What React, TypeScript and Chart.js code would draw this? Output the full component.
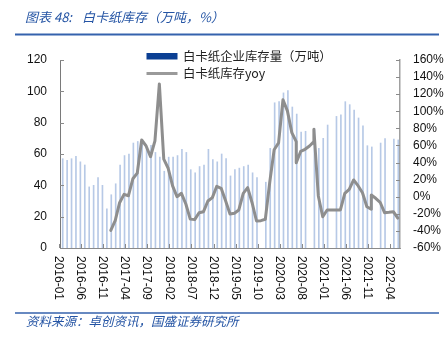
import React, { useEffect, useRef } from 'react';
import { Chart, registerables } from 'chart.js';

Chart.register(...registerables);

// Categories: monthly, 2016-01 .. 2022-05
const months: string[] = [];
for (let i = 0; i < 77; i++) {
  const yr = 2016 + Math.floor(i / 12);
  const mo = (i % 12) + 1;
  months.push(`${yr}-${mo < 10 ? '0' + mo : mo}`);
}

// 白卡纸企业库存量（万吨）
const inventory: (number | null)[] = [
  57, 56, 57, 58.5, 55, 53, 39, 40, 45, 40, 25, 34,
  41, 53, 59, 60, 67, 68, 66, 64, 65.5, 61, 58, 49,
  58, 58, 59, 63, 61, 50, 48, 52, 53, 63, 56.5, 55,
  60, 57, 46, 50, 51, 52, 53, 48, 45, null, 42, 63.6,
  92.7, 93.4, 99, 100.5, 90, 85.5, 74, 74.5, null, 76.4, 63.6, 70,
  78.5, null, 84, 85, 93.4, 91.5, 88, 83, 78, 65.3, 64.5, null,
  67, 69.8, null, 69.5, 69,
];

// 白卡纸库存yoy (%) — month index of each point and its value
const yoyMonthIndex: number[] = [
  11, 12, 13, 14, 15, 16, 17, 18, 19, 20, 21, 22, 23, 24, 25, 26, 27, 28, 29, 30,
  31, 32, 33, 34, 35, 36, 37, 38, 39, 40, 41, 42, 43, 44, 45, 46, 47, 48, 49, 50,
  51, 52, 53, 53, 54, 55, 56, 57, 57, 58, 59, 60, 61, 62, 63, 64, 65, 66, 67, 68,
  69, 70, 70, 71, 72, 73, 74, 75, 76,
];
const yoyValues: number[] = [
  -39.5, -28, -7, 2.8, 1.2, 21, 27.7, 66.4, 59.4, 46.8, 65.4, 132, 44, 33.3, 12.7, 0, 4, -8.5, -26.2, -26.8,
  -18.7, -17.5, -5, -1, 12.2, 9.9, -4.8, -20.2, -19.4, -15.5, 4, 10.6, -7, -28.4, -28, -26.4, 17, 55, 63, 113.5,
  100.5, 75, 64.4, 39.8, 53, 55.5, 59.4, 64.4, 78.9, 0.9, -23.4, -15.5, -15.5, -15.5, -15.5, 4, 8.7, 19.6, 12.9, 4.7,
  -11.7, -14.7, 2, -1.8, -6.5, -18.7, -18.2, -17.5, -25,
];

const labelEvery = 5;
const TITLE_PREFIX = '图表 48:';
const TITLE = '白卡纸库存（万吨，%）';
const SOURCE = '资料来源：卓创资讯，国盛证券研究所';
const LEGEND_BAR = '白卡纸企业库存量（万吨）';
const LEGEND_LINE = '白卡纸库存yoy';

const BLUE_TEXT = '#2454a4';
const BAR_COLOR = '#b7c9e6';
const LEGEND_BAR_COLOR = '#0b3f93';
const LINE_COLOR = '#8e8e8e';
const AXIS_COLOR = '#8a8a8a';

const decor = {
  id: 'decor',
  afterDraw(chart: any) {
    const { ctx, chartArea: a, scales } = chart;
    const xs = scales.x;
    const ys = scales.y;
    const ys1 = scales.y1;
    const seg = (x1: number, y1: number, x2: number, y2: number) => {
      ctx.beginPath();
      ctx.moveTo(x1, y1);
      ctx.lineTo(x2, y2);
      ctx.stroke();
    };
    ctx.save();
    // title
    ctx.fillStyle = BLUE_TEXT;
    ctx.textBaseline = 'middle';
    ctx.textAlign = 'left';
    ctx.font = 'italic 13px "Noto Sans CJK SC"';
    ctx.fillText(TITLE_PREFIX, 25, 17);
    ctx.fillText(TITLE, 82, 17);
    // rules
    ctx.strokeStyle = '#3562ad';
    ctx.lineWidth = 2;
    seg(15, 34.5, 439, 34.5);
    ctx.lineWidth = 1.5;
    seg(15, 313, 439, 313);
    // source
    ctx.font = 'italic 12.5px "Noto Sans CJK SC"';
    ctx.fillText(SOURCE, 26, 321.5);

    // legend
    ctx.fillStyle = LEGEND_BAR_COLOR;
    ctx.fillRect(146.5, 53, 31, 6.5);
    ctx.strokeStyle = '#9a9a9a';
    ctx.lineWidth = 3;
    seg(146.5, 73.5, 177.5, 73.5);
    ctx.fillStyle = '#222';
    ctx.font = '12.4px "Noto Sans CJK SC"';
    ctx.fillText(LEGEND_BAR, 183, 56.5);
    ctx.fillText(LEGEND_LINE, 183, 73.5);

    // tick marks (inward)
    ctx.strokeStyle = AXIS_COLOR;
    ctx.lineWidth = 1;
    ys.ticks.forEach((t: any) => {
      const py = Math.round(ys.getPixelForValue(t.value)) + 0.5;
      seg(a.left, py, a.left + 4, py);
    });
    ys1.ticks.forEach((t: any) => {
      const py = Math.round(ys1.getPixelForValue(t.value)) + 0.5;
      seg(a.right - 4, py, a.right, py);
    });
    const w = (a.right - a.left) / months.length;
    ctx.fillStyle = '#111';
    ctx.font = '12px "Liberation Sans"';
    for (let i = 0; i < months.length; i += labelEvery) {
      const px = xs.getPixelForValue(i) - w / 2;
      const tx = Math.round(px) - 0.5;
      seg(tx, a.bottom - 4, tx, a.bottom);
      ctx.save();
      ctx.translate(px - 1.5, a.bottom + 8);
      ctx.rotate(Math.PI / 2);
      ctx.textAlign = 'left';
      ctx.textBaseline = 'middle';
      ctx.fillText(months[i], 0, 0);
      ctx.restore();
    }
    ctx.restore();
  },
};

export default function App() {
  const ref = useRef<HTMLCanvasElement | null>(null);
  useEffect(() => {
    document.body.style.margin = '0';
    const canvas = ref.current;
    if (!canvas) return;
    const tickFont = { family: '"Liberation Sans"', size: 12 };
    const chart = new Chart(canvas, {
      type: 'bar',
      data: {
        labels: months,
        datasets: [
          {
            type: 'line',
            label: LEGEND_LINE,
            data: yoyMonthIndex.map((m, k) => ({ x: m, y: yoyValues[k] })),
            xAxisID: 'x2',
            yAxisID: 'y1',
            borderColor: LINE_COLOR,
            borderWidth: 3,
            pointRadius: 0,
            tension: 0,
            borderJoinStyle: 'round',
            borderCapStyle: 'round',
            order: 0,
          } as any,
          {
            type: 'bar',
            label: LEGEND_BAR,
            data: inventory,
            xAxisID: 'x',
            yAxisID: 'y',
            backgroundColor: BAR_COLOR,
            barThickness: 1,
            order: 1,
          } as any,
        ],
      },
      options: {
        responsive: false,
        animation: false,
        layout: { padding: { top: 60, left: 0, right: 0, bottom: 0 } },
        plugins: { legend: { display: false }, tooltip: { enabled: false } },
        scales: {
          x: {
            type: 'category',
            offset: true,
            grid: { display: false, drawTicks: false },
            ticks: { display: false },
            border: { display: true, color: AXIS_COLOR, width: 1 },
            afterFit: (s: any) => { s.height = 97; },
          },
          x2: {
            type: 'linear',
            display: false,
            offset: false,
            bounds: 'ticks',
            min: -0.5,
            max: months.length - 0.5,
          },
          y: {
            position: 'left',
            min: 0,
            max: 120,
            ticks: { stepSize: 20, maxTicksLimit: 20, font: tickFont, color: '#111', padding: 13 },
            grid: { display: false, drawTicks: false },
            border: { display: true, color: '#7a7a7a', width: 1 },
            afterFit: (s: any) => { s.width = 60; },
          },
          y1: {
            position: 'right',
            min: -60,
            max: 160,
            ticks: {
              stepSize: 20,
              maxTicksLimit: 20,
              autoSkip: false,
              font: tickFont,
              color: '#111',
              padding: 13,
              callback: (v: any) => `${v}%`,
            },
            grid: { display: false, drawTicks: false },
            border: { display: true, color: '#a0a0a0', width: 1.5 },
            afterFit: (s: any) => { s.width = 45; },
          },
        },
      } as any,
      plugins: [decor],
    });
    return () => chart.destroy();
  }, []);
  return (
    <div style={{ width: 445, height: 345 }}>
      <canvas ref={ref} width={445} height={345} style={{ display: 'block' }} />
    </div>
  );
}
